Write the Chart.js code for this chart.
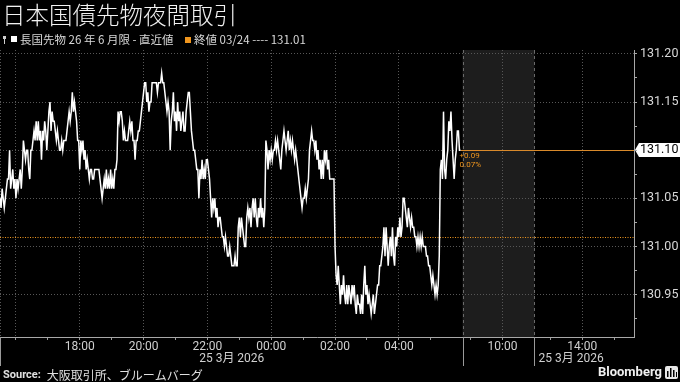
<!DOCTYPE html>
<html><head><meta charset="utf-8">
<script src="https://cdn.jsdelivr.net/npm/chart.js@4"></script>
<style>html,body{margin:0;padding:0;background:#000;}canvas{display:block}</style>
</head><body>
<canvas id="c" width="680" height="382"></canvas>
<script>
const titleText = "日本国債先物夜間取引";
const seriesName = "長国先物 26 年 6 月限 - 直近値";
const prevCloseLabel = "終値 03/24 ---- 131.01";
const prevClose = 131.01;
const changeAbs = "+0.09";
const changePct = "0.07%";
const sourceLabel = "Source:";
const sourceText = "大阪取引所、ブルームバーグ";
const brandText = "Bloomberg";
const dateLabels = ["25 3月 2026", "25 3月 2026"];

const times = [
"15:30","15:32","15:34","15:36","15:38","15:40","15:42","15:44","15:46","15:48","15:50","15:52","15:54","15:56","15:58","16:00","16:02","16:04","16:06","16:08","16:10","16:12","16:14","16:16","16:18","16:20","16:22","16:24","16:26","16:28",
"16:30","16:32","16:34","16:36","16:38","16:40","16:42","16:44","16:46","16:48","16:50","16:52","16:54","16:56","16:58","17:00","17:02","17:04","17:06","17:08","17:10","17:12","17:14","17:16","17:18","17:20","17:22","17:24","17:26","17:28",
"17:30","17:32","17:34","17:36","17:38","17:40","17:42","17:44","17:46","17:48","17:50","17:52","17:54","17:56","17:58","18:00","18:02","18:04","18:06","18:08","18:10","18:12","18:14","18:16","18:18","18:20","18:22","18:24","18:26","18:28",
"18:30","18:32","18:34","18:36","18:38","18:40","18:42","18:44","18:46","18:48","18:50","18:52","18:54","18:56","18:58","19:00","19:02","19:04","19:06","19:08","19:10","19:12","19:14","19:16","19:18","19:20","19:22","19:24","19:26","19:28",
"19:30","19:32","19:34","19:36","19:38","19:40","19:42","19:44","19:46","19:48","19:50","19:52","19:54","19:56","19:58","20:00","20:02","20:04","20:06","20:08","20:10","20:12","20:14","20:16","20:18","20:20","20:22","20:24","20:26","20:28",
"20:30","20:32","20:34","20:36","20:38","20:40","20:42","20:44","20:46","20:48","20:50","20:52","20:54","20:56","20:58","21:00","21:02","21:04","21:06","21:08","21:10","21:12","21:14","21:16","21:18","21:20","21:22","21:24","21:26","21:28",
"21:30","21:32","21:34","21:36","21:38","21:40","21:42","21:44","21:46","21:48","21:50","21:52","21:54","21:56","21:58","22:00","22:02","22:04","22:06","22:08","22:10","22:12","22:14","22:16","22:18","22:20","22:22","22:24","22:26","22:28",
"22:30","22:32","22:34","22:36","22:38","22:40","22:42","22:44","22:46","22:48","22:50","22:52","22:54","22:56","22:58","23:00","23:02","23:04","23:06","23:08","23:10","23:12","23:14","23:16","23:18","23:20","23:22","23:24","23:26","23:28",
"23:30","23:32","23:34","23:36","23:38","23:40","23:42","23:44","23:46","23:48","23:50","23:52","23:54","23:56","23:58","00:00","00:02","00:04","00:06","00:08","00:10","00:12","00:14","00:16","00:18","00:20","00:22","00:24","00:26","00:28",
"00:30","00:32","00:34","00:36","00:38","00:40","00:42","00:44","00:46","00:48","00:50","00:52","00:54","00:56","00:58","01:00","01:02","01:04","01:06","01:08","01:10","01:12","01:14","01:16","01:18","01:20","01:22","01:24","01:26","01:28",
"01:30","01:32","01:34","01:36","01:38","01:40","01:42","01:44","01:46","01:48","01:50","01:52","01:54","01:56","01:58","02:00","02:02","02:04","02:06","02:08","02:10","02:12","02:14","02:16","02:18","02:20","02:22","02:24","02:26","02:28",
"02:30","02:32","02:34","02:36","02:38","02:40","02:42","02:44","02:46","02:48","02:50","02:52","02:54","02:56","02:58","03:00","03:02","03:04","03:06","03:08","03:10","03:12","03:14","03:16","03:18","03:20","03:22","03:24","03:26","03:28",
"03:30","03:32","03:34","03:36","03:38","03:40","03:42","03:44","03:46","03:48","03:50","03:52","03:54","03:56","03:58","04:00","04:02","04:04","04:06","04:08","04:10","04:12","04:14","04:16","04:18","04:20","04:22","04:24","04:26","04:28",
"04:30","04:32","04:34","04:36","04:38","04:40","04:42","04:44","04:46","04:48","04:50","04:52","04:54","04:56","04:58","05:00","05:02","05:04","05:06","05:08","05:10","05:12","05:14","05:16","05:18","05:20","05:22","05:24","05:26","05:28",
"05:30","05:32","05:34","05:36","05:38","05:40","05:42","05:44","05:46","05:48","05:50","05:52","05:54","05:56"
];

const values = [
131.05,131.04,131.06,131.05,131.04,131.05,131.06,131.07,131.07,131.10,131.06,131.07,131.08,131.06,131.07,131.05,131.07,131.06,131.07,131.08,131.06,131.08,131.11,131.10,131.09,131.10,131.10,131.08,131.07,131.10,
131.10,131.11,131.12,131.11,131.13,131.11,131.13,131.11,131.12,131.09,131.12,131.11,131.13,131.12,131.10,131.12,131.14,131.15,131.12,131.14,131.13,131.13,131.12,131.11,131.12,131.11,131.10,131.10,131.11,131.10,
131.11,131.11,131.11,131.12,131.13,131.14,131.13,131.14,131.16,131.14,131.15,131.14,131.13,131.11,131.11,131.08,131.11,131.10,131.11,131.09,131.10,131.08,131.09,131.08,131.07,131.08,131.08,131.07,131.07,131.08,
131.08,131.08,131.08,131.08,131.07,131.06,131.05,131.06,131.07,131.06,131.08,131.06,131.07,131.06,131.08,131.06,131.07,131.06,131.08,131.08,131.09,131.14,131.13,131.14,131.14,131.13,131.11,131.12,131.11,131.11,
131.11,131.12,131.13,131.12,131.13,131.11,131.11,131.09,131.11,131.11,131.12,131.12,131.13,131.14,131.15,131.16,131.17,131.17,131.15,131.16,131.14,131.15,131.15,131.17,131.17,131.17,131.17,131.17,131.16,131.17,
131.17,131.17,131.18,131.17,131.17,131.16,131.15,131.14,131.15,131.14,131.10,131.13,131.14,131.16,131.13,131.14,131.12,131.15,131.13,131.14,131.12,131.13,131.14,131.12,131.12,131.14,131.15,131.16,131.16,131.14,
131.12,131.11,131.10,131.10,131.09,131.08,131.08,131.05,131.08,131.07,131.09,131.07,131.08,131.07,131.09,131.09,131.08,131.07,131.05,131.03,131.05,131.04,131.05,131.03,131.04,131.02,131.03,131.03,131.02,131.01,
131.01,131.00,131.01,131.00,130.99,130.99,131.00,130.99,130.98,130.98,130.98,130.99,130.98,130.98,131.02,131.03,131.01,131.03,131.02,131.01,131.00,131.00,131.03,131.04,131.03,131.04,131.02,131.04,131.05,131.03,
131.05,131.03,131.02,131.04,131.03,131.05,131.03,131.04,131.02,131.04,131.11,131.10,131.08,131.10,131.09,131.10,131.09,131.10,131.10,131.11,131.10,131.11,131.10,131.09,131.08,131.10,131.11,131.12,131.11,131.10,
131.11,131.12,131.10,131.11,131.10,131.11,131.10,131.09,131.10,131.09,131.08,131.07,131.06,131.05,131.04,131.05,131.05,131.06,131.05,131.06,131.07,131.10,131.11,131.12,131.11,131.11,131.10,131.11,131.09,131.10,
131.08,131.09,131.07,131.09,131.07,131.10,131.09,131.10,131.08,131.09,131.07,131.07,131.07,131.07,131.07,131.00,130.97,130.96,130.98,130.96,130.94,130.96,130.95,130.97,130.95,130.94,130.96,130.94,130.96,130.95,
130.94,130.96,130.95,130.96,130.94,130.93,130.95,130.94,130.94,130.93,130.95,130.93,130.96,130.98,130.95,130.96,130.94,130.95,130.94,130.93,130.94,130.95,130.93,130.94,130.95,130.96,130.96,130.98,130.98,130.99,
131.00,131.02,130.99,131.02,131.00,130.98,131.00,131.01,130.99,131.02,130.99,130.98,131.01,131.00,131.02,131.01,131.03,131.01,131.02,131.05,131.05,131.04,131.03,131.02,131.04,131.03,131.02,131.03,131.02,131.02,
131.01,131.01,131.00,131.01,131.00,131.01,131.00,131.01,131.00,131.00,131.00,130.99,130.99,130.98,130.98,130.97,130.96,130.97,130.96,130.95,130.96,130.95,130.96,130.99,131.08,131.09,131.07,131.14,131.08,131.07,
131.09,131.10,131.13,131.12,131.14,131.11,131.09,131.07,131.09,131.10,131.12,131.12,131.10,131.10
];

// x axis (trading-session clock: night 15:30-06:00, morning 08:45-11:00, afternoon 12:30-)
const xTickTimes = ["16:00","17:00","18:00","19:00","20:00","21:00","22:00","23:00","00:00","01:00","02:00","03:00","04:00","05:00","09:00","10:00","13:00","14:00","15:00"];
const xGridTimes = ["16:00","18:00","20:00","22:00","00:00","02:00","04:00","10:00","14:00"];
const xLabelTimes = ["18:00","20:00","22:00","00:00","02:00","04:00","10:00","14:00"];
const sessionBreaks = ["06:00","11:00"];
const axisEndHours = 19.87;

const yMajorTicks = [130.95,131.00,131.05,131.10,131.15,131.20];
const yMinorTicks = [130.925,130.975,131.025,131.075,131.125,131.175];
const yMin = 130.906, yMax = 131.204;

function sessionHours(t){
  const p = t.split(':').map(Number);
  const mins = p[0]*60 + p[1];
  if (mins >= 930) return (mins - 930)/60;
  if (mins <= 360) return (mins + 1440 - 930)/60;
  if (mins <= 660) return 14.5 + (mins - 525)/60;
  return 16.75 + (mins - 750)/60;
}
const near = (a,b)=>Math.abs(a-b)<1e-6;
const isXGrid = v => xGridTimes.some(t=>near(sessionHours(t),v));
const isYMajor = v => yMajorTicks.some(m=>near(m,v));
const n = Math.min(times.length, values.length);
const lastValue = values[n-1];
const lastTime = times[n-1];

const points = [];
for (let i=0;i<n;i++) points.push({x: sessionHours(times[i]), y: values[i]});

const ORANGE = '#f0961e';
const CJK = '"Noto Sans CJK JP"';

const deco = {
  id:'deco',
  beforeDraw(chart){
    const ctx = chart.ctx, ca = chart.chartArea, xs = chart.scales.x, ys = chart.scales.y;
    ctx.save();
    ctx.fillStyle = '#000'; ctx.fillRect(0,0,chart.width,chart.height);
    const s0 = xs.getPixelForValue(sessionHours(sessionBreaks[0]));
    const s1 = xs.getPixelForValue(sessionHours(sessionBreaks[1]));
    ctx.fillStyle = '#1d1d1d';
    ctx.fillRect(s0, ca.top, s1-s0, ca.bottom-ca.top);
    const yl = Math.round(ys.getPixelForValue(lastValue));
    ctx.fillStyle = '#fff';
    ctx.beginPath();
    ctx.moveTo(ca.right+1, yl);
    ctx.lineTo(ca.right+5, yl-7);
    ctx.lineTo(chart.width, yl-7);
    ctx.lineTo(chart.width, yl+7);
    ctx.lineTo(ca.right+5, yl+7);
    ctx.closePath(); ctx.fill();
    ctx.restore();
  },
  beforeDatasetsDraw(chart){
    const ctx = chart.ctx, ca = chart.chartArea, xs = chart.scales.x, ys = chart.scales.y;
    ctx.save();
    const s0 = Math.round(xs.getPixelForValue(sessionHours(sessionBreaks[0])))+0.5;
    const s1 = Math.round(xs.getPixelForValue(sessionHours(sessionBreaks[1])))+0.5;
    ctx.strokeStyle = '#6a6a6a'; ctx.lineWidth = 1; ctx.setLineDash([3,3]);
    [s0,s1].forEach(x=>{ctx.beginPath();ctx.moveTo(x,ca.top);ctx.lineTo(x,ca.bottom);ctx.stroke();});
    ctx.strokeStyle = '#555'; ctx.setLineDash([1,2]);
    ctx.beginPath(); ctx.moveTo(ca.left+0.5, ca.top); ctx.lineTo(ca.left+0.5, ca.bottom); ctx.stroke();
    const yp = Math.round(ys.getPixelForValue(prevClose))+0.5;
    ctx.strokeStyle = ORANGE; ctx.setLineDash([1,1.5]);
    ctx.beginPath(); ctx.moveTo(ca.left, yp); ctx.lineTo(ca.right, yp); ctx.stroke();
    const xl = xs.getPixelForValue(sessionHours(lastTime));
    const yl = Math.round(ys.getPixelForValue(lastValue))+0.5;
    ctx.setLineDash([]); ctx.strokeStyle = '#d98a2b';
    ctx.beginPath(); ctx.moveTo(xl, yl); ctx.lineTo(ca.right, yl); ctx.stroke();
    ctx.fillStyle = ORANGE; ctx.font = '8px Roboto'; ctx.textAlign='left'; ctx.textBaseline='middle';
    ctx.fillText(changeAbs, xl-1, yl+5);
    ctx.fillText(changePct, xl-1, yl+14);
    ctx.restore();
  },
  afterDraw(chart){
    const ctx = chart.ctx, ca = chart.chartArea, xs = chart.scales.x;
    ctx.save();
    ctx.fillStyle = '#f2f2f2'; ctx.textBaseline='middle'; ctx.textAlign='left';
    ctx.font = '300 23.5px ' + CJK;
    ctx.fillText(titleText, 2, 15);
    ctx.fillStyle = '#cfcfcf';
    ctx.fillRect(3,36,3,3); ctx.fillRect(4,39,1,5);
    ctx.fillStyle = '#fff'; ctx.fillRect(11,36,6,6);
    ctx.fillStyle = '#d8d8d8'; ctx.font = '11.5px ' + CJK;
    ctx.fillText(seriesName, 20, 40);
    ctx.fillStyle = ORANGE; ctx.fillRect(185,37,6,6);
    ctx.fillStyle = '#d8d8d8';
    ctx.fillText(prevCloseLabel, 194, 40);
    const s0 = Math.round(xs.getPixelForValue(sessionHours(sessionBreaks[0])))+0.5;
    const s1 = Math.round(xs.getPixelForValue(sessionHours(sessionBreaks[1])))+0.5;
    ctx.strokeStyle = '#9a9a9a'; ctx.lineWidth = 1;
    [ca.left+0.5, s0, s1].forEach(x=>{ctx.beginPath();ctx.moveTo(x,ca.bottom);ctx.lineTo(x,366);ctx.stroke();});
    ctx.fillStyle = '#d0d0d0'; ctx.font = '12px Roboto, ' + CJK;
    ctx.textAlign = 'center';
    ctx.fillText(dateLabels[0], (ca.left+s0)/2, 359);
    ctx.textAlign = 'left';
    ctx.fillText(dateLabels[1], s1+4, 359);
    ctx.fillStyle = '#e0e0e0';
    ctx.font = 'bold 11px Roboto';
    ctx.fillText(sourceLabel, 3, 375);
    const sw = ctx.measureText(sourceLabel).width;
    ctx.font = '12px ' + CJK;
    ctx.fillText(sourceText, 3+sw+6, 375);
    ctx.font = 'bold 13px Roboto'; ctx.textAlign='right'; ctx.fillStyle='#f0f0f0';
    ctx.fillText(brandText, 662, 373);
    ctx.fillStyle = '#e8e8e8';
    ctx.beginPath(); if (ctx.roundRect) ctx.roundRect(665,366,13,13,2); else ctx.rect(665,366,13,13); ctx.fill();
    ctx.fillStyle = '#000';
    ctx.fillRect(667,371,1.5,6); ctx.fillRect(670,368,1.5,9); ctx.fillRect(673,370,1.5,7); ctx.fillRect(676,372,1,5);
    ctx.restore();
  }
};

new Chart(document.getElementById('c'), {
  type: 'line',
  data: { datasets: [{ data: points, borderColor: '#ffffff', borderWidth: 1.5, pointRadius: 0, tension: 0, fill: false }] },
  options: {
    responsive: false, animation: false, devicePixelRatio: 1,
    layout: { padding: { top: 50, left: 0, right: 0, bottom: 0 } },
    plugins: { legend: { display: false }, tooltip: { enabled: false }, title: { display: false } },
    scales: {
      x: {
        type: 'linear', position: 'bottom', min: 0, max: axisEndHours,
        afterBuildTicks: s => { s.ticks = xTickTimes.map(t => ({ value: sessionHours(t) })); },
        afterFit: s => { s.height = 45; },
        ticks: {
          autoSkip: false, maxRotation: 0, minRotation: 0, padding: 0, color: '#d0d0d0',
          font: { family: 'Roboto', size: 12 },
          callback: v => { const t = xLabelTimes.find(t => near(sessionHours(t), v)); return t || ''; }
        },
        grid: {
          color: c => (c.tick && isXGrid(c.tick.value)) ? '#575757' : 'rgba(0,0,0,0)',
          tickColor: '#9a9a9a', tickLength: 3, lineWidth: 1
        },
        border: { display: true, color: '#a8a8a8', width: 1, dash: [1, 2] }
      },
      y: {
        type: 'linear', position: 'right', min: yMin, max: yMax,
        afterBuildTicks: s => { s.ticks = yMajorTicks.concat(yMinorTicks).sort((a,b)=>a-b).map(v => ({ value: v })); },
        afterFit: s => { s.width = 46; },
        ticks: {
          autoSkip: false, padding: 3,
          font: { family: 'Roboto', size: 12.5 },
          color: c => (c.tick && near(c.tick.value, lastValue)) ? '#000' : '#d8d8d8',
          callback: v => isYMajor(v) ? v.toFixed(2) : ''
        },
        grid: {
          color: c => (c.tick && isYMajor(c.tick.value)) ? '#575757' : 'rgba(0,0,0,0)',
          tickColor: '#a8a8a8', tickLength: 3, lineWidth: 1
        },
        border: { display: true, color: '#a8a8a8', width: 1, dash: [1, 2] }
      }
    }
  },
  plugins: [deco]
});
</script>
</body></html>
